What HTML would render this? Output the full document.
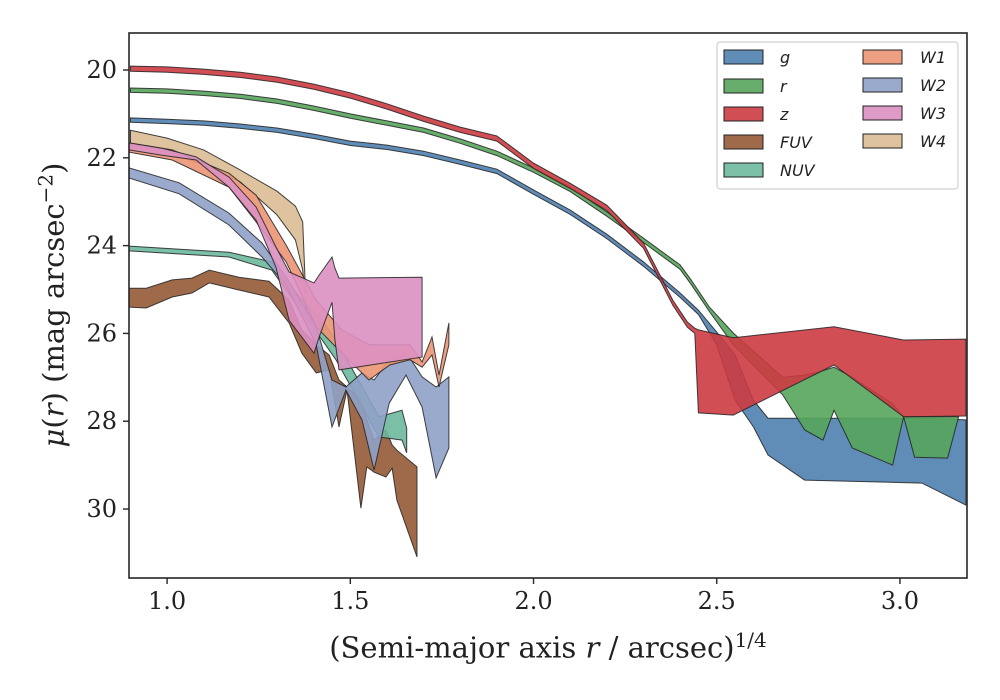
<!DOCTYPE html>
<html><head><meta charset="utf-8">
<style>
html,body{margin:0;padding:0;background:#fff;}
svg{display:block;}
text{font-family:"DejaVu Serif","Liberation Serif",serif;fill:#222;}
.leg{font-family:"DejaVu Sans","Liberation Sans",sans-serif;font-style:italic;font-size:16px;fill:#222;}
</style></head>
<body>
<svg id="chart" width="1000" height="700" viewBox="0 0 1000 700">
<rect x="0" y="0" width="1000" height="700" fill="#fff"/>
<g id="bands"></g>
<g id="axes"></g>
<g id="legend"></g>
</svg>
<script>
// ---- data ----
const xTicks = [1.0, 1.5, 2.0, 2.5, 3.0];
const xTickLabels = ["1.0", "1.5", "2.0", "2.5", "3.0"];
const yTicks = [20, 22, 24, 26, 28, 30];
const yTickLabels = ["20", "22", "24", "26", "28", "30"];

const bandNames = ["FUV", "NUV", "W4", "W2", "W1", "W3", "g", "r", "z"];

const gX  = [0.9,1.0,1.1,1.2,1.3,1.4,1.5,1.6,1.7,1.8,1.9,2.0,2.1,2.2,2.3,2.4,2.45,2.5,2.55,2.6,2.64,2.74,3.06,3.18];
const gHi = [21.09,21.12,21.16,21.23,21.32,21.46,21.62,21.71,21.85,22.05,22.26,22.73,23.19,23.74,24.37,25.08,25.47,25.97,26.49,27.52,27.93,27.93,27.93,27.97];
const gLo = [21.19,21.22,21.26,21.33,21.42,21.56,21.72,21.81,21.95,22.15,22.36,22.83,23.29,23.84,24.47,25.18,25.57,26.26,27.52,28.13,28.77,29.34,29.41,29.91];

const rX  = [0.9,1.0,1.1,1.2,1.3,1.4,1.5,1.6,1.7,1.8,1.9,2.0,2.1,2.2,2.3,2.4,2.43,2.48,2.545,2.68,2.74,2.79,2.82,2.87,2.98,3.01,3.04,3.13,3.16];
const rHi = [20.41,20.43,20.48,20.55,20.66,20.82,21.00,21.16,21.32,21.57,21.85,22.23,22.67,23.23,23.83,24.44,24.78,25.40,25.99,27.0,26.95,26.85,26.77,27.0,27.6,27.9,27.9,27.9,27.9];
const rLo = [20.51,20.53,20.58,20.65,20.76,20.92,21.10,21.26,21.42,21.67,21.95,22.33,22.77,23.33,23.93,24.54,24.88,25.50,26.26,27.40,28.20,28.43,27.75,28.61,29.0,27.9,28.82,28.84,27.9];

const zX  = [0.9,1.0,1.1,1.2,1.3,1.4,1.5,1.6,1.7,1.8,1.9,2.0,2.1,2.2,2.3,2.38,2.42,2.44,2.45,2.545,2.82,3.01,3.18];
const zHi = [19.91,19.93,19.98,20.05,20.16,20.32,20.52,20.77,21.05,21.30,21.50,22.12,22.58,23.08,23.94,25.24,25.74,25.88,25.92,26.10,25.85,26.15,26.13];
const zLo = [20.03,20.05,20.10,20.17,20.28,20.44,20.64,20.89,21.17,21.42,21.62,22.24,22.70,23.20,24.06,25.36,25.86,26.0,27.81,27.86,26.72,27.90,27.88];

const fuvX  = [0.896,0.943,1.014,1.068,1.115,1.196,1.278,1.333,1.368,1.407,1.442,1.469,1.491,1.529,1.545,1.565,1.597,1.614,1.627,1.682];
const fuvHi = [24.97,24.97,24.78,24.74,24.56,24.72,24.81,25.24,25.92,26.26,26.49,27.06,27.22,27.52,27.97,28.43,28.20,28.54,28.66,29.04];
const fuvLo = [25.40,25.42,25.17,25.08,24.85,25.01,25.17,25.76,26.45,26.90,26.83,28.13,27.29,29.98,29.04,29.16,29.27,29.07,29.80,31.09];

const nuvX  = [0.896,1.169,1.286,1.368,1.423,1.461,1.578,1.641,1.654];
const nuvHi = [24.01,24.15,24.37,25.24,25.70,26.15,27.90,27.75,28.16];
const nuvLo = [24.12,24.26,24.56,25.51,26.15,26.60,28.36,28.43,28.72];

const w1X  = [0.896,1.014,1.169,1.243,1.325,1.407,1.477,1.551,1.608,1.663,1.696,1.723,1.742,1.769];
const w1Hi = [21.66,21.82,22.35,22.85,23.99,25.24,25.92,26.26,26.26,26.26,26.65,26.08,26.95,25.76];
const w1Lo = [21.87,22.05,22.67,23.46,24.37,25.85,26.45,27.06,26.72,26.60,26.77,26.49,27.22,26.26];

const w2X  = [0.896,1.033,1.169,1.259,1.325,1.407,1.450,1.488,1.532,1.565,1.606,1.652,1.696,1.734,1.769];
const w2Hi = [22.23,22.57,23.26,23.94,24.72,25.85,27.06,27.22,26.90,27.06,26.60,26.42,26.99,27.22,26.99];
const w2Lo = [22.46,22.82,23.53,24.26,24.90,26.26,28.13,27.29,27.97,29.11,27.59,26.95,27.68,29.29,28.61];

const w3X  = [0.896,0.986,1.079,1.169,1.243,1.297,1.333,1.401,1.415,1.450,1.458,1.469,1.696];
const w3Hi = [21.66,21.78,21.98,22.44,23.12,24.03,24.60,24.85,24.67,24.26,24.51,24.74,24.72];
const w3Lo = [21.82,21.94,22.05,22.67,23.42,24.49,25.70,26.45,26.08,25.29,26.15,26.83,26.54];

const w4X  = [0.9,1.0,1.1,1.2,1.3,1.35,1.37,1.38];
const w4Hi = [21.37,21.55,21.82,22.28,22.76,23.10,23.46,25.47];
const w4Lo = [21.71,21.87,22.16,22.55,23.30,23.87,24.56,25.47];

// ---- layout ----
const L=129,R=967,T=33,B=578;
const xMin=0.896,xMax=3.183,yTop=19.157,yBot=31.571;
function sx(v){return L+(v-xMin)/(xMax-xMin)*(R-L);}
function sy(v){return T+(v-yTop)/(yBot-yTop)*(B-T);}
const NS="http://www.w3.org/2000/svg";
function mk(tag,attrs,parent){const e=document.createElementNS(NS,tag);for(const k in attrs)e.setAttribute(k,attrs[k]);parent.appendChild(e);return e;}

const colors={g:"#4f80b0",r:"#56a55c",z:"#cb3b41",FUV:"#945a36",NUV:"#6cb89c",W1:"#eb9574",W2:"#8fa1c6",W3:"#dc90c2",W4:"#dcbd93"};
const series={g:[gX,gHi,gLo],r:[rX,rHi,rLo],z:[zX,zHi,zLo],FUV:[fuvX,fuvHi,fuvLo],NUV:[nuvX,nuvHi,nuvLo],W1:[w1X,w1Hi,w1Lo],W2:[w2X,w2Hi,w2Lo],W3:[w3X,w3Hi,w3Lo],W4:[w4X,w4Hi,w4Lo]};

const bands=document.getElementById('bands');
const clip=mk('clipPath',{id:'plotclip'},mk('defs',{},document.getElementById('chart')));
mk('rect',{x:L,y:T,width:R-L,height:B-T},clip);
bands.setAttribute('clip-path','url(#plotclip)');
bandNames.forEach(n=>{
  const [xs,hi,lo]=series[n];
  let pts=[];
  for(let i=0;i<xs.length;i++)pts.push(sx(xs[i]).toFixed(1)+","+sy(hi[i]).toFixed(1));
  for(let i=xs.length-1;i>=0;i--)pts.push(sx(xs[i]).toFixed(1)+","+sy(lo[i]).toFixed(1));
  const p=mk('polygon',{points:pts.join(" "),fill:colors[n],'fill-opacity':0.9,stroke:"#222",'stroke-width':1,'stroke-opacity':0.85,'stroke-linejoin':'miter'},bands);
  
  
});

// axes
const ax=document.getElementById('axes');
const frame=mk('rect',{x:L,y:T,width:R-L,height:B-T,fill:"none",stroke:"#262626",'stroke-width':1.6},ax);


xTicks.forEach((v,i)=>{
  const x=sx(v);
  const t=mk('line',{x1:x,x2:x,y1:B,y2:B+6,stroke:"#262626",'stroke-width':1.4},ax);
  
  
  const lb=mk('text',{x:x,y:B+31,'text-anchor':'middle','font-size':24},ax);
  lb.textContent=xTickLabels[i];
  
  
});
yTicks.forEach((v,i)=>{
  const y=sy(v);
  const t=mk('line',{x1:L-6,x2:L,y1:y,y2:y,stroke:"#262626",'stroke-width':1.4},ax);
  
  
  const lb=mk('text',{x:L-12,y:y+8,'text-anchor':'end','font-size':24},ax);
  lb.textContent=yTickLabels[i];
  
  
});

// legend
const lg=document.getElementById('legend');
const box=mk('rect',{x:717,y:42,width:241,height:147,rx:3,fill:"#fff",'fill-opacity':0.85,stroke:"#d0d0d0",'stroke-width':1.2},lg);


const legCols=[["g","r","z","FUV","NUV"],["W1","W2","W3","W4"]];
const legX=[724,863], legRows=[57,86,114,142,170];
const legLabels={g:"g",r:"r",z:"z",FUV:"FUV",NUV:"NUV",W1:"W1",W2:"W2",W3:"W3",W4:"W4"};
legCols.forEach((col,ci)=>{
  col.forEach((n,ri)=>{
    const y=ci===0?legRows[ri]:[57,85,113,141][ri];
    const g=mk('g',{},lg);
    
    
    mk('rect',{x:legX[ci],y:y-7,width:39,height:14,fill:colors[n],'fill-opacity':0.9,stroke:"#222",'stroke-width':1},g);
    const t=mk('text',{x:legX[ci]+(ci===0?56:57),y:y+6,class:'leg'},g);
    t.textContent=legLabels[n];
  });
});
</script>
<div style="position:absolute;left:0;top:0;width:1000px;height:700px;pointer-events:none;">
  <div style="position:absolute;left:0;width:1096px;top:628px;text-align:center;font-family:'DejaVu Serif','Liberation Serif',serif;font-size:29px;color:#222;white-space:nowrap;">(Semi-major axis <i>r</i> / arcsec)<sup style="font-size:20px;">1/4</sup></div>
  <div style="position:absolute;left:52px;top:305px;transform:translate(-50%,-50%) rotate(-90deg);font-family:'DejaVu Serif','Liberation Serif',serif;font-size:29px;color:#222;white-space:nowrap;"><i>μ</i>(<i>r</i>) (mag arcsec<sup style="font-size:20px;">−2</sup>)</div>
</div>
</body></html>
